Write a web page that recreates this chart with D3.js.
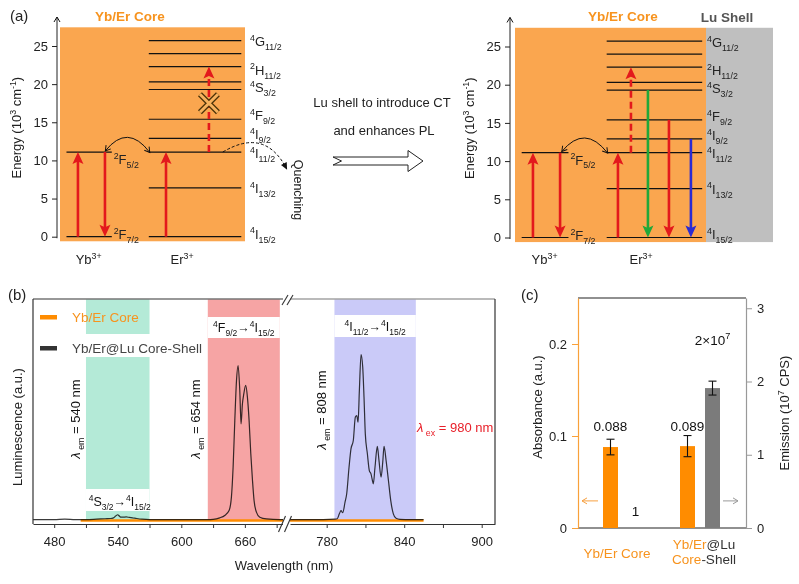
<!DOCTYPE html>
<html><head><meta charset="utf-8">
<script src="https://cdn.jsdelivr.net/npm/d3@7/dist/d3.min.js"></script>
<style>body{margin:0;background:#fff}svg{display:block;font-family:Arial,"Liberation Sans",Helvetica,sans-serif}</style>
</head><body>
<svg id="c" width="799" height="584"></svg>
<script>
// ================= DATA =================
// Panel (a): energy levels (10^3 cm^-1)
const energyTicks = [0, 5, 10, 15, 20, 25];
const ybLevelEnergies = [0, 11.1];
const ybLabelNames = [["2","F","7/2"], ["2","F","5/2"]];
const ybLabelEnergies = [0.3, 10.2];
const erLevelEnergies = [0, 6.4, 11.1, 12.9, 15.4, 19.3, 20.3, 22.3, 24.0, 25.7];
const erLabelNames = [["4","I","15/2"],["4","I","13/2"],["4","I","11/2"],["4","I","9/2"],["4","F","9/2"],["4","S","3/2"],["2","H","11/2"],["4","G","11/2"]];
const erLabelEnergies = [0.4, 6.4, 11.0, 13.4, 15.9, 19.6, 21.9, 25.6];
const coreArrowFrom  = [0, 11.1, 0, 11.1];
const coreArrowTo    = [11.1, 0, 11.1, 22.3];
const coreArrowColor = ["red","red","red","red"];
const coreArrowDash  = [false,false,false,true];
const shellArrowFrom  = [0, 11.1, 0, 11.1, 19.3, 15.4, 12.9];
const shellArrowTo    = [11.1, 0, 11.1, 22.3, 0, 0, 0];
const shellArrowColor = ["red","red","red","red","green","red","blue"];
const shellArrowDash  = [false,false,false,true,false,false,false];

// Panel (b): spectra
const bTicksLeft = [480,510,540,570,600,630,660,690];
const bLabelsLeft = [480,540,600,660];
const bTicksRight = [780,810,840,870,900];
const bLabelsRight = [780,840,900];
const bandStart = [510, 625, 786];
const bandEnd   = [570, 693, 849];
const shellWlLeft = [460,480,490,500,510,520,528,533,536,538,540,541.5,543,545,548,551,554,558,563,570,590,610,625,630,636.3,641,645.1,647.3,648.9,650.5,652.1,653.6,655.2,656.4,657.7,659.0,660.8,662.4,664.0,665.6,667.2,668.7,670.9,674.1,680.4,692.9,696];
const shellLumLeft = [0.004,0.004,0.006,0.004,0.004,0.006,0.008,0.009,0.012,0.02,0.026,0.02,0.015,0.015,0.016,0.014,0.012,0.009,0.006,0.004,0.004,0.004,0.004,0.005,0.012,0.023,0.045,0.106,0.241,0.452,0.633,0.701,0.588,0.437,0.528,0.573,0.611,0.558,0.452,0.302,0.181,0.090,0.038,0.015,0.007,0.004,0.004];
const shellWlRight = [751.6,770,777.4,786.4,788.2,789.8,791.1,792.4,794.2,795.5,797.3,798.8,800.6,802.2,803.3,804.3,805.3,806.6,807.9,808.9,809.9,811.5,813.0,814.3,815.4,816.1,817.4,819.2,820.5,822.1,823.4,824.4,826.0,827.8,829.6,831.6,833.7,836.8,845,855];
const shellLumRight = [0.004,0.004,0.004,0.006,0.008,0.030,0.045,0.035,0.083,0.121,0.241,0.324,0.362,0.468,0.475,0.445,0.588,0.751,0.694,0.558,0.392,0.302,0.226,0.211,0.181,0.166,0.241,0.335,0.271,0.196,0.264,0.335,0.271,0.181,0.090,0.030,0.010,0.005,0.004,0.004];
const coreWlLeft = [505, 696];
const coreLumLeft = [0, 0];
const coreWlRight = [751.6, 855];
const coreLumRight = [0, 0];

// Panel (c): bars
const cCategories = ["Yb/Er Core", "Yb/Er@Lu Core-Shell"];
const absorbance = [0.088, 0.089];
const absorbanceErr = [0.0085, 0.0115];
const absorbanceText = ["0.088", "0.089"];
const emission = [0, 1.91];
const emissionErr = [0, 0.095];
const absTicks = [0, 0.1, 0.2];
const emTicks = [0, 1, 2, 3];

// ================= STYLE =================
const FONT = 'Arial,"Liberation Sans",Helvetica,sans-serif';
const ORANGE_BG = "#faa64f";
const ORANGE_T = "#f7931e";
const ORANGE = "#ff8c00";
const COLORS = {red:"#e3191c", green:"#22a83a", blue:"#2a2ad2"};

const svg = d3.select("#c");
const defs = svg.append("defs");
function marker(id, color, kind){
  const m = defs.append("marker").attr("id", id).attr("markerUnits","userSpaceOnUse")
    .attr("viewBox","-14 -10 28 20").attr("refX",0).attr("refY",0)
    .attr("markerWidth",28).attr("markerHeight",20)
    .attr("orient", kind==="chev2" ? "auto-start-reverse" : "auto");
  if (kind==="big") m.append("path").attr("d","M8,0 L-4,-5.5 L-1.5,0 L-4,5.5 Z").attr("fill",color);
  else if (kind==="chev"||kind==="chev2") m.append("path").attr("d","M-5,-3 L0,0 L-5,3").attr("fill","none").attr("stroke",color).attr("stroke-width",1);
  else if (kind==="small") m.append("path").attr("d","M1,0 L-6,-3.2 L-6,3.2 Z").attr("fill",color);
}
Object.entries(COLORS).forEach(([k,c]) => marker("big-"+k, c, "big"));
marker("chev-k", "#111", "chev");
marker("chev2-k", "#111", "chev2");
marker("small-k", "#111", "small");
marker("chev-o", "#f7a040", "chev");
marker("chev-g", "#999", "chev");

function rich(g, x, y, parts, size, anchor, color, rotate){
  const t = g.append("text").attr("x",x).attr("y",y).attr("font-size",size)
    .attr("text-anchor",anchor||"start").attr("fill",color||"#222").attr("font-family",FONT);
  if (rotate) t.attr("transform",`rotate(${rotate},${x},${y})`);
  let cur = 0;
  parts.forEach(p => {
    const tgt = p.s==="sup" ? -0.4*size : p.s==="sub" ? 0.3*size : 0;
    const ts = t.append("tspan").attr("dy", tgt-cur).attr("font-size", p.s ? size*0.68 : size).text(p.t);
    if (p.i) ts.attr("font-style","italic");
    if (p.b) ts.attr("font-weight","bold");
    if (p.c) ts.attr("fill", p.c);
    cur = tgt;
  });
  return t;
}
const lvl = n => [{t:n[0],s:"sup"},{t:n[1]},{t:n[2],s:"sub"}];

// ================= PANEL (a) =================
function drawDiagram(o){
  const g = svg.append("g");
  const y = d3.scaleLinear().domain([0,25]).range(o.yRange);
  const x = d3.scaleLinear().domain([0,100]).range(o.rect);
  const top = y(27.45), bot = y(-0.6);
  g.append("rect").attr("x",o.rect[0]).attr("y",top).attr("width",o.rect[1]-o.rect[0]).attr("height",bot-top).attr("fill",ORANGE_BG);
  if (o.shell) g.append("rect").attr("x",o.rect[1]).attr("y",top).attr("width",o.shell-o.rect[1]).attr("height",bot-top).attr("fill","#bfbfbf");
  const ax = g.append("g").attr("transform",`translate(${o.axisX},0)`)
    .call(d3.axisLeft(y).tickValues(energyTicks).tickSize(5).tickPadding(4).tickSizeOuter(0));
  ax.select(".domain").remove();
  ax.selectAll("text").attr("font-size",13).attr("fill","#222").attr("font-family",FONT);
  ax.selectAll("line").attr("stroke","#222");
  g.append("line").attr("x1",o.axisX).attr("x2",o.axisX).attr("y1",y(-0.2)).attr("y2",y(28.8))
    .attr("stroke","#222").attr("stroke-width",1).attr("marker-end","url(#chev-k)");
  rich(g, o.axisX-36, y(14.3), [{t:"Energy (10"},{t:"3",s:"sup"},{t:" cm"},{t:"-1",s:"sup"},{t:")"}], 13, "middle", "#222", -90);
  // levels
  g.selectAll(".yb").data(ybLevelEnergies).join("line").attr("x1",x(3.5)).attr("x2",x(28))
    .attr("y1",d=>y(d)).attr("y2",d=>y(d)).attr("stroke","#111").attr("stroke-width",1.2);
  g.selectAll(".er").data(erLevelEnergies).join("line").attr("x1",x(48)).attr("x2",x(98))
    .attr("y1",d=>y(d)).attr("y2",d=>y(d)).attr("stroke","#111").attr("stroke-width",1.2);
  ybLabelNames.forEach((n,i)=> rich(g, x(29), y(ybLabelEnergies[i])+5, lvl(n), 13, "start", "#222"));
  erLabelNames.forEach((n,i)=> rich(g, o.labelX, y(erLabelEnergies[i])+5, lvl(n), 13, "start", "#222"));
  // titles
  g.append("text").attr("x",o.titleX).attr("y",21).attr("text-anchor","middle").attr("font-size",13.5)
    .attr("font-weight","bold").attr("fill",ORANGE_T).attr("font-family",FONT).text("Yb/Er Core");
  if (o.shell) g.append("text").attr("x",o.shellTitleX).attr("y",22).attr("text-anchor","middle").attr("font-size",13.5)
    .attr("font-weight","bold").attr("fill","#555").attr("font-family",FONT).text("Lu Shell");
  rich(g, x(15.5), 264, [{t:"Yb"},{t:"3+",s:"sup"}], 13, "middle", "#222");
  rich(g, x(66), 264, [{t:"Er"},{t:"3+",s:"sup"}], 13, "middle", "#222");
  // transitions
  o.from.forEach((f,i)=>{
    const t = o.to[i], dir = t>f ? -1 : 1;
    const y1 = y(f), y2 = y(t) - dir*8;
    g.append("line").attr("x1",x(o.cols[i])).attr("x2",x(o.cols[i])).attr("y1",y1).attr("y2",y2)
      .attr("stroke",COLORS[o.color[i]]).attr("stroke-width",2.6)
      .attr("stroke-dasharray", o.dash[i] ? "7,4" : null)
      .attr("marker-end",`url(#big-${o.color[i]})`);
  });
  // energy transfer curved arrow
  const p0=[x(24.5), y(11.25)], p1=[x(48.5), y(11.05)];
  g.append("path").attr("d",`M${p0[0]},${p0[1]} Q${(p0[0]+p1[0])/2},${y(14.9)} ${p1[0]},${p1[1]}`)
    .attr("fill","none").attr("stroke","#111").attr("stroke-width",1)
    .attr("marker-start","url(#chev2-k)").attr("marker-end","url(#chev2-k)");
  return {x,y,g};
}

const A = drawDiagram({rect:[60,245], yRange:[236.7,46], axisX:57, labelX:250, titleX:130,
  from:coreArrowFrom, to:coreArrowTo, color:coreArrowColor, dash:coreArrowDash, cols:[9.7,24.3,57.3,80.5]});
const B = drawDiagram({rect:[515,706], shell:773, shellTitleX:727, yRange:[237.5,46.5], axisX:510, labelX:707, titleX:623,
  from:shellArrowFrom, to:shellArrowTo, color:shellArrowColor, dash:shellArrowDash, cols:[9.4,23.6,53.9,60.7,69.6,80.6,92.1]});

// X mark (blocked upconversion) on core panel
(function(){
  const cx = A.x(80.5), cy = A.y(17.5), r = 9;
  const d = `M${cx-r},${cy-r} L${cx+r},${cy+r} M${cx-r},${cy+r} L${cx+r},${cy-r}`;
  A.g.append("path").attr("d",d).attr("stroke","#4a3208").attr("stroke-width",5.5).attr("fill","none");
  A.g.append("path").attr("d",d).attr("stroke","#f6b25e").attr("stroke-width",3).attr("fill","none");
})();
// Quenching
A.g.append("path").attr("d",`M${A.x(88)},${A.y(11.1)} Q${A.x(110.8)},${A.y(14.4)} ${A.x(122.5)},${A.y(8.9)}`)
  .attr("fill","none").attr("stroke","#111").attr("stroke-width",1).attr("stroke-dasharray","3,2")
  .attr("marker-end","url(#small-k)");
svg.append("text").attr("x",294).attr("y",190).attr("transform","rotate(90,294,190)")
  .attr("text-anchor","middle").attr("font-size",12.5).attr("fill","#222").attr("font-family",FONT).text("Quenching");
svg.append("text").attr("x",10).attr("y",21).attr("font-size",15).attr("fill","#222").attr("font-family",FONT).text("(a)");

// middle text and hollow arrow
svg.append("text").attr("x",382).attr("y",107).attr("text-anchor","middle").attr("font-size",13).attr("fill","#222").attr("font-family",FONT).text("Lu shell to introduce CT");
svg.append("text").attr("x",384).attr("y",135).attr("text-anchor","middle").attr("font-size",13).attr("fill","#222").attr("font-family",FONT).text("and enhances PL");
svg.append("path").attr("d","M333,157 L408,157 L408,150.5 L423,161 L408,171.5 L408,165 L333,165 L341.5,161 Z")
  .attr("fill","#fff").attr("stroke","#222").attr("stroke-width",1);

// ================= PANEL (b) =================
(function(){
  const g = svg.append("g");
  const xl = d3.scaleLinear().domain([460, 696]).range([33, 283]);
  const xr = d3.scaleLinear().domain([751.6, 910.3]).range([290, 495]);
  const y = d3.scaleLinear().domain([0, 1]).range([520.5, 299.5]);
  const xOf = w => w < 720 ? xl(w) : xr(w);
  const top = y(1), bot = y(0);
  const bandCols = ["#b4ead7", "#f6a4a4", "#cacaf8"];
  bandStart.forEach((s,i)=> g.append("rect").attr("x",xOf(s)).attr("y",top).attr("width",xOf(bandEnd[i])-xOf(s))
    .attr("height",bot-top).attr("fill",bandCols[i]));
  // white label backgrounds
  g.append("rect").attr("x",36).attr("y",334).attr("width",165).attr("height",23).attr("fill","#fff");
  g.append("rect").attr("x",xOf(bandStart[0])).attr("y",489).attr("width",xOf(bandEnd[0])-xOf(bandStart[0])).attr("height",22).attr("fill","#fff");
  g.append("rect").attr("x",xOf(bandStart[1])).attr("y",317).attr("width",xOf(bandEnd[1])-xOf(bandStart[1])).attr("height",21).attr("fill","#fff");
  g.append("rect").attr("x",xOf(bandStart[2])).attr("y",315).attr("width",xOf(bandEnd[2])-xOf(bandStart[2])).attr("height",22).attr("fill","#fff");
  // band labels
  const arrowPart = {t:"\u2192", b:true};
  rich(g, (xOf(bandStart[0])+xOf(bandEnd[0]))/2+2, 506, [{t:"4",s:"sup"},{t:"S"},{t:"3/2",s:"sub"},arrowPart,{t:"4",s:"sup"},{t:"I"},{t:"15/2",s:"sub"}], 12.5, "middle", "#111");
  rich(g, (xOf(bandStart[1])+xOf(bandEnd[1]))/2, 332, [{t:"4",s:"sup"},{t:"F"},{t:"9/2",s:"sub"},arrowPart,{t:"4",s:"sup"},{t:"I"},{t:"15/2",s:"sub"}], 12.5, "middle", "#111");
  rich(g, (xOf(bandStart[2])+xOf(bandEnd[2]))/2, 331, [{t:"4",s:"sup"},{t:"I"},{t:"11/2",s:"sub"},arrowPart,{t:"4",s:"sup"},{t:"I"},{t:"15/2",s:"sub"}], 12.5, "middle", "#111");
  // vertical labels
  const lam = (v) => [{t:"\u03bb",i:true},{t:" em",s:"sub"},{t:" = "+v+" nm"}];
  rich(g, 80, 419, lam(540), 13, "middle", "#111", -90);
  rich(g, 200, 419, lam(654), 13, "middle", "#111", -90);
  rich(g, 326, 410, lam(808), 13, "middle", "#111", -90);
  rich(g, 417, 432, [{t:"\u03bb",i:true},{t:" ex",s:"sub"},{t:" = 980 nm"}], 13, "start", "#e8202a");
  // legend
  g.append("rect").attr("x",40).attr("y",315).attr("width",17).attr("height",4.5).attr("fill",ORANGE);
  g.append("text").attr("x",72).attr("y",322).attr("font-size",13.5).attr("fill",ORANGE_T).attr("font-family",FONT).text("Yb/Er Core");
  g.append("rect").attr("x",40).attr("y",346).attr("width",17).attr("height",4.5).attr("fill","#333");
  g.append("text").attr("x",72).attr("y",353).attr("font-size",13.5).attr("fill","#444").attr("font-family",FONT).text("Yb/Er@Lu Core-Shell");
  // spectra
  const line = (xs) => d3.line().x(d=>xs(d[0])).y(d=>y(d[1])).curve(d3.curveMonotoneX);
  const z = (a,b) => a.map((v,i)=>[v,b[i]]);
  g.append("path").attr("d",line(xl)(z(coreWlLeft,coreLumLeft))).attr("fill","none").attr("stroke",ORANGE).attr("stroke-width",2.6);
  g.append("path").attr("d",line(xr)(z(coreWlRight,coreLumRight))).attr("fill","none").attr("stroke",ORANGE).attr("stroke-width",2.6);
  g.append("path").attr("d",line(xl)(z(shellWlLeft,shellLumLeft))).attr("fill","none").attr("stroke","#3a3a3a").attr("stroke-width",1.2).style("mix-blend-mode","multiply");
  g.append("path").attr("d",line(xr)(z(shellWlRight,shellLumRight))).attr("fill","none").attr("stroke","#3a3a3a").attr("stroke-width",1.2).style("mix-blend-mode","multiply");
  // frame
  const axY = 524;
  const fr = g.append("g").attr("stroke","#333").attr("stroke-width",1.2).attr("fill","none");
  fr.append("line").attr("x1",33).attr("x2",33).attr("y1",299).attr("y2",axY);
  fr.append("line").attr("x1",33).attr("x2",283).attr("y1",299).attr("y2",299);
  fr.append("line").attr("x1",290).attr("x2",495).attr("y1",299).attr("y2",299).attr("stroke","#777");
  fr.append("line").attr("x1",495).attr("x2",495).attr("y1",299).attr("y2",axY);
  const axl = g.append("g").attr("transform",`translate(0,${axY})`)
    .call(d3.axisBottom(xl).tickValues(bTicksLeft).tickSize(4).tickSizeOuter(0).tickPadding(9).tickFormat(d=>bLabelsLeft.includes(d)?d:""));
  const axr = g.append("g").attr("transform",`translate(0,${axY})`)
    .call(d3.axisBottom(xr).tickValues(bTicksRight).tickSize(4).tickSizeOuter(0).tickPadding(9).tickFormat(d=>bLabelsRight.includes(d)?d:""));
  [axl,axr].forEach(a=>{
    a.selectAll("text").attr("font-size",13).attr("fill","#222").attr("font-family",FONT);
    a.selectAll("line").attr("stroke","#333");
    a.select(".domain").attr("stroke","#333").attr("stroke-width",1.2);
  });
  // break marks
  const br = g.append("g").attr("stroke","#333").attr("stroke-width",1.1);
  [285, 290].forEach(cx=> br.append("line").attr("x1",cx-3).attr("y1",305).attr("x2",cx+3).attr("y2",295));
  br.append("rect").attr("x",283).attr("y",axY-2).attr("width",7).attr("height",4).attr("fill","#fff").attr("stroke","none");
  [282, 288].forEach(cx=> br.append("line").attr("x1",cx-3.5).attr("y1",axY+8).attr("x2",cx+3.5).attr("y2",axY-8));
  // axis titles
  g.append("text").attr("x",284).attr("y",570).attr("text-anchor","middle").attr("font-size",13).attr("fill","#222").attr("font-family",FONT).text("Wavelength (nm)");
  g.append("text").attr("x",22).attr("y",427).attr("transform","rotate(-90,22,427)").attr("text-anchor","middle").attr("font-size",13).attr("fill","#222").attr("font-family",FONT).text("Luminescence (a.u.)");
  g.append("text").attr("x",8).attr("y",300).attr("font-size",15).attr("fill","#222").attr("font-family",FONT).text("(b)");
})();

// ================= PANEL (c) =================
(function(){
  const g = svg.append("g");
  const L = 578, R = 746, T = 298, Bm = 528;
  const yA = d3.scaleLinear().domain([0, 0.25]).range([Bm, T]);
  const yE = d3.scaleLinear().domain([0, 3.14]).range([Bm, T]);
  const xc = d3.scalePoint().domain(cCategories).range([623, 700]);
  const xs = d3.scaleBand().domain(["abs","em"]).range([-20, 20]).paddingInner(0.4);
  g.append("line").attr("x1",L).attr("x2",R).attr("y1",T).attr("y2",T).attr("stroke","#222").attr("stroke-width",1.2);
  g.append("line").attr("x1",L).attr("x2",R).attr("y1",Bm).attr("y2",Bm).attr("stroke","#222").attr("stroke-width",1.2);
  const al = g.append("g").attr("transform",`translate(${L},0)`).call(d3.axisLeft(yA).tickValues(absTicks).tickSize(6).tickSizeOuter(0).tickPadding(5).tickFormat(d=>d===0?"0":d3.format(".1f")(d)));
  al.select(".domain").attr("stroke","#f9a13a").attr("stroke-width",1.2);
  al.selectAll("line").attr("stroke","#f9a13a");
  al.selectAll("text").attr("font-size",13).attr("fill","#222").attr("font-family",FONT);
  const ar = g.append("g").attr("transform",`translate(${R},0)`).call(d3.axisRight(yE).tickValues(emTicks).tickSize(6).tickSizeOuter(0).tickPadding(5).tickFormat(d3.format("d")));
  ar.select(".domain").attr("stroke","#999").attr("stroke-width",1.2);
  ar.selectAll("line").attr("stroke","#999");
  ar.selectAll("text").attr("font-size",13).attr("fill","#222").attr("font-family",FONT);
  // bars
  g.selectAll(".ab").data(cCategories).join("rect").attr("x",d=>xc(d)+xs("abs")).attr("width",xs.bandwidth())
    .attr("y",(d,i)=>yA(absorbance[i])).attr("height",(d,i)=>Bm-yA(absorbance[i])).attr("fill",ORANGE);
  g.selectAll(".em").data(cCategories).join("rect").attr("x",d=>xc(d)+xs("em")).attr("width",xs.bandwidth())
    .attr("y",(d,i)=>yE(emission[i])).attr("height",(d,i)=>Bm-yE(emission[i])).attr("fill","#7b7b7b");
  const eb = (cx, y0, y1) => {
    g.append("line").attr("x1",cx).attr("x2",cx).attr("y1",y0).attr("y2",y1).attr("stroke","#111").attr("stroke-width",1.1);
    [y0,y1].forEach(yy=> g.append("line").attr("x1",cx-4).attr("x2",cx+4).attr("y1",yy).attr("y2",yy).attr("stroke","#111").attr("stroke-width",1.1));
  };
  cCategories.forEach((c,i)=>{
    const ca = xc(c)+xs("abs")+xs.bandwidth()/2, ce = xc(c)+xs("em")+xs.bandwidth()/2;
    eb(ca, yA(absorbance[i]-absorbanceErr[i]), yA(absorbance[i]+absorbanceErr[i]));
    if (emissionErr[i]>0) eb(ce, yE(emission[i]-emissionErr[i]), yE(emission[i]+emissionErr[i]));
    g.append("text").attr("x",ca).attr("y",yA(0.105)).attr("text-anchor","middle").attr("font-size",13.5).attr("fill","#111").attr("font-family",FONT).text(absorbanceText[i]);
  });
  const c0e = xc(cCategories[0])+xs("em")+xs.bandwidth()/2;
  const c1e = xc(cCategories[1])+xs("em")+xs.bandwidth()/2;
  g.append("text").attr("x",c0e).attr("y",yE(0.16)).attr("text-anchor","middle").attr("font-size",13.5).attr("fill","#111").attr("font-family",FONT).text("1");
  rich(g, c1e, yE(2.5), [{t:"2\u00d710"},{t:"7",s:"sup"}], 13.5, "middle", "#111");
  // arrows
  g.append("line").attr("x1",598).attr("x2",582).attr("y1",yE(0.37)).attr("y2",yE(0.37)).attr("stroke","#f7a040").attr("stroke-width",1).attr("marker-end","url(#chev-o)");
  g.append("line").attr("x1",723).attr("x2",738).attr("y1",yE(0.37)).attr("y2",yE(0.37)).attr("stroke","#999").attr("stroke-width",1).attr("marker-end","url(#chev-g)");
  // category labels
  g.append("text").attr("x",xc(cCategories[0])-6).attr("y",558).attr("text-anchor","middle").attr("font-size",13.5).attr("fill",ORANGE_T).attr("font-family",FONT).text("Yb/Er Core");
  const t1 = g.append("text").attr("x",xc(cCategories[1])+4).attr("y",549).attr("text-anchor","middle").attr("font-size",13.5).attr("font-family",FONT);
  t1.append("tspan").attr("fill",ORANGE_T).text("Yb/Er");
  t1.append("tspan").attr("fill","#333").text("@Lu");
  const t2 = g.append("text").attr("x",xc(cCategories[1])+4).attr("y",564).attr("text-anchor","middle").attr("font-size",13.5).attr("font-family",FONT);
  t2.append("tspan").attr("fill",ORANGE_T).text("Core");
  t2.append("tspan").attr("fill","#333").text("-Shell");
  g.append("text").attr("x",542).attr("y",407).attr("transform","rotate(-90,542,407)").attr("text-anchor","middle").attr("font-size",13).attr("fill","#222").attr("font-family",FONT).text("Absorbance (a.u.)");
  rich(g, 789, 413, [{t:"Emission (10"},{t:"7",s:"sup"},{t:" CPS)"}], 13, "middle", "#222", -90);
  g.append("text").attr("x",521).attr("y",300).attr("font-size",15).attr("fill","#222").attr("font-family",FONT).text("(c)");
})();
</script>
</body></html>
